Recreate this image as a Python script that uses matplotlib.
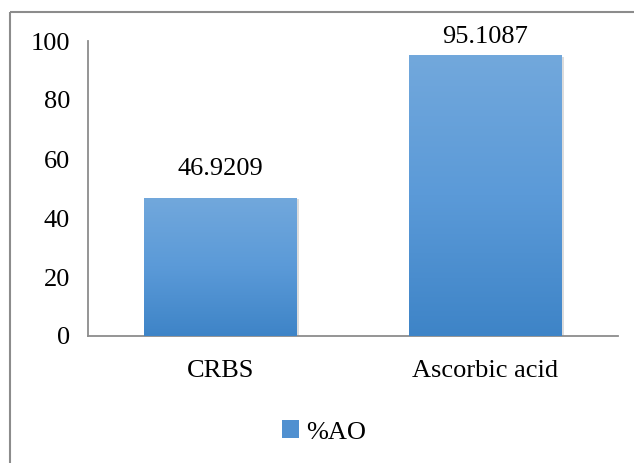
import numpy as np
import matplotlib
matplotlib.use("Agg")
import matplotlib.pyplot as plt
from matplotlib.colors import LinearSegmentedColormap
from matplotlib.patches import Rectangle
from matplotlib.lines import Line2D
import matplotlib.patheffects as pe

categories = ["CRBS", "Ascorbic acid"]
values = [46.9209, 95.1087]
value_labels = ["46.9209", "95.1087"]
series_name = "%AO"
yticks = [0, 20, 40, 60, 80, 100]

plt.rcParams["font.family"] = ["Liberation Serif", "DejaVu Serif"]

W, H = 634, 463
fig = plt.figure(figsize=(W / 100, H / 100), dpi=100)
ax = fig.add_axes([88 / W, 1 - 336 / H, 530 / W, 295 / H])

# outer chart frame (runs off the right and bottom edges)
frame_top = 1 - 12 / H
frame_left = 9.5 / W
fig.add_artist(Line2D([frame_left, 1.02], [frame_top, frame_top],
                      transform=fig.transFigure, color="#8c8c8c", linewidth=1.5,
                      solid_capstyle="butt"))
fig.add_artist(Line2D([frame_left, frame_left], [-0.02, frame_top],
                      transform=fig.transFigure, color="#8c8c8c", linewidth=1.5,
                      solid_capstyle="butt"))

grad = LinearSegmentedColormap.from_list("bar", ["#3e84c7", "#5b9ad8", "#72a8dc"])
x = np.arange(len(categories))
bars = ax.bar(x, values, width=0.574, color="#5593d3", zorder=2,
              path_effects=[pe.SimplePatchShadow(offset=(1.5, -1.0), alpha=0.25,
                                                 shadow_rgbFace="#777777"),
                            pe.Normal()])

for b in bars:
    x0, w, h = b.get_x(), b.get_width(), b.get_height()
    im = ax.imshow(np.linspace(0, 1, 256).reshape(-1, 1), cmap=grad,
                   extent=(x0, x0 + w, 0, h), origin="lower",
                   aspect="auto", zorder=3, interpolation="bilinear")
    im.set_clip_path(b)

# label offsets (points above the bar top); the tall bar's label sits closer
label_offsets = [13, 5]
for b, lab, off in zip(bars, value_labels, label_offsets):
    ax.annotate(lab, (b.get_x() + b.get_width() / 2, b.get_height()),
                xytext=(0, off), textcoords="offset points",
                ha="center", va="bottom", fontsize=19, color="#000000",
                annotation_clip=False)

ax.set_xlim(-0.5, 1.5)
ax.set_ylim(0, 100)
ax.set_aspect("auto")
ax.set_xticks(x)
ax.set_xticklabels(categories)
ax.set_yticks(yticks)
ax.tick_params(axis="both", length=0, labelsize=19, colors="#000000")
ax.tick_params(axis="y", pad=13)
ax.tick_params(axis="x", pad=17)
for s in ["top", "right"]:
    ax.spines[s].set_visible(False)
for s in ["left", "bottom"]:
    ax.spines[s].set_color("#8c8c8c")
    ax.spines[s].set_linewidth(1.3)

handle = Rectangle((0, 0), 1, 1, facecolor="#5090d0", edgecolor="none")
ax.legend([handle], [series_name], loc="center", bbox_to_anchor=(324 / W, 1 - 432 / H),
          bbox_transform=fig.transFigure, frameon=False, fontsize=19,
          handlelength=0.65, handleheight=0.65, handletextpad=0.25)

fig.savefig("out.png", dpi=100)
